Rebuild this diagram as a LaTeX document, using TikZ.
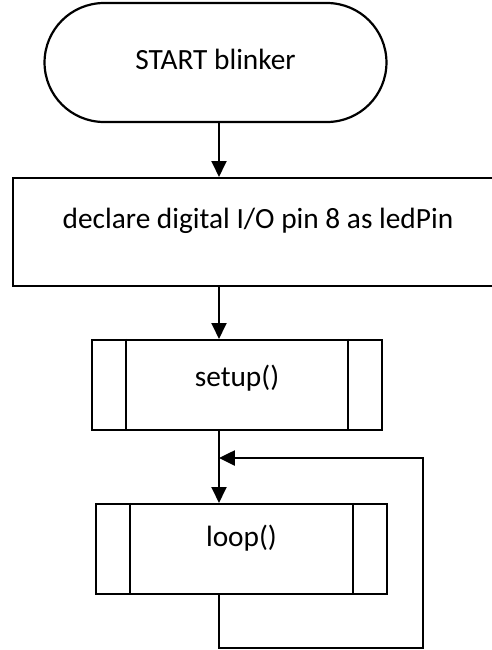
\documentclass[tikz,border=0pt]{standalone}
\usepackage{fontspec}
\setmainfont{Carlito}
\usetikzlibrary{arrows.meta,calc}
\begin{document}
\begin{tikzpicture}[x=.02cm,y=-.02cm,line width=1.25pt,
box/.style={draw,font=\fontsize{16.7}{20}\selectfont,text height=11pt},
subproc/.style={box,minimum width=5.8cm,minimum height=1.8cm},
arr/.style={-{Triangle[length=9pt,width=8.5pt]}}]
\useasboundingbox (0,0) rectangle (491,650);
\node[box,minimum width=6.84cm,minimum height=2.38cm,rounded corners=1.19cm,text depth=3pt]
(start) at (215.5,62.5) {START blinker};
\node[box,minimum width=9.8cm,minimum height=2.16cm,text depth=15pt]
(declare) at (258,232) {declare digital I/O pin 8 as ledPin};
\node[subproc,text depth=9.5pt] (setup) at (237,385) {setup()};
\node[subproc,minimum width=5.82cm,text depth=14pt] (loop) at (241.5,549) {loop()};
\foreach \n in {setup,loop}{
\draw ($(\n.north west)+(35,0)$) -- ($(\n.south west)+(35,0)$);
\draw ($(\n.north east)+(-35,0)$) -- ($(\n.south east)+(-35,0)$);}
\coordinate (spine) at (219,0);
\coordinate (turn) at (423,648);
\coordinate (join) at (219,458);
\draw[arr] (start.south -| spine) -- (declare.north -| spine);
\draw[arr] (declare.south -| spine) -- (setup.north -| spine);
\draw[arr] (setup.south -| spine) -- (loop.north -| spine);
\draw[arr] (loop.south -| spine) |- (turn) |- (join);
\end{tikzpicture}
\end{document}
